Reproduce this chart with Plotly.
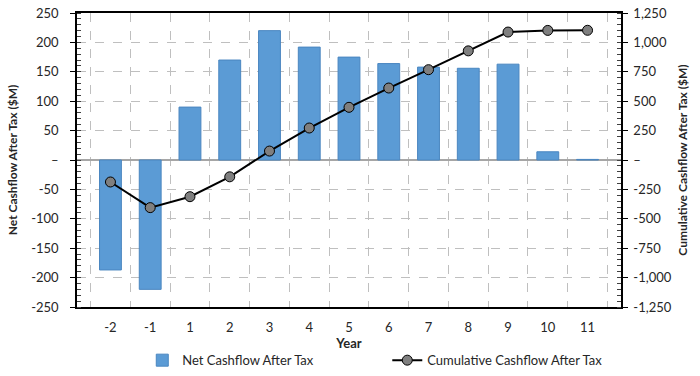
import plotly.graph_objects as go

years = ["-2", "-1", "1", "2", "3", "4", "5", "6", "7", "8", "9", "10", "11"]
net_cashflow = [-187, -220, 90, 170, 220, 192, 175, 164, 158, 156, 163, 14, 1]
cumulative_cashflow = [-187, -405, -312, -143, 76, 272, 448, 612, 768, 928, 1088, 1102, 1103]

left_ticks = [250, 200, 150, 100, 50, 0, -50, -100, -150, -200, -250]
left_ticktext = ["250", "200", "150", "100", "50", "–", "-50", "-100", "-150", "-200", "-250"]
right_ticks = [1250, 1000, 750, 500, 250, 0, -250, -500, -750, -1000, -1250]
right_ticktext = ["1,250", "1,000", "750", "500", "250", "–", "-250", "-500", "-750", "-1,000", "-1,250"]

FONT = "Lato"
TXT = "#262626"

fig = go.Figure()
fig.add_trace(go.Bar(
    x=years, y=net_cashflow, name="Net Cashflow After Tax",
    marker=dict(color="#5B9BD5", line=dict(color="#4A86C0", width=1)),
    yaxis="y",
))
fig.add_trace(go.Scatter(
    x=years, y=cumulative_cashflow, name="Cumulative Cashflow After Tax",
    mode="lines+markers",
    line=dict(color="#000000", width=2),
    marker=dict(color="#7F7F7F", size=10, line=dict(color="#000000", width=1)),
    yaxis="y2",
))

fig.update_layout(
    width=700, height=376,
    margin=dict(l=77, r=79, t=13, b=69, autoexpand=False),
    paper_bgcolor="white", plot_bgcolor="white",
    font=dict(family=FONT, size=13, color=TXT),
    bargap=0.45,
    showlegend=True,
    legend=dict(orientation="h", x=0.12, xanchor="left", y=-0.13, yanchor="top",
                entrywidth=200, font=dict(size=13, color=TXT), bgcolor="rgba(0,0,0,0)"),
    xaxis=dict(
        type="category", tickson="boundaries", automargin=False,
        showgrid=True, gridcolor="#BFBFBF", griddash="dash", gridwidth=1,
        showline=True, linecolor="#000000", linewidth=1.5, mirror=True,
        ticks="", ticklabelstandoff=8, tickfont=dict(size=13, color=TXT),
        title=dict(text="<b>Year</b>", font=dict(size=13, color=TXT), standoff=0),
    ),
    yaxis=dict(
        range=[-250, 250], tickvals=left_ticks, ticktext=left_ticktext, automargin=False,
        showgrid=True, gridcolor="#BFBFBF", griddash="dash", gridwidth=1,
        zeroline=True, zerolinecolor="#A6A6A6", zerolinewidth=1.5,
        showline=True, linecolor="#000000", linewidth=1.5,
        ticks="outside", ticklen=5, tickcolor="#000000", ticklabelstandoff=9,
        minor=dict(dtick=10, ticks="inside", ticklen=4, tickcolor="#404040", showgrid=False),
        tickfont=dict(size=13, color=TXT),
        title=dict(text="<b>Net Cashflow After Tax ($M)</b>", font=dict(size=12, color=TXT), standoff=11),
    ),
    yaxis2=dict(
        range=[-1250, 1250], tickvals=right_ticks, ticktext=right_ticktext, automargin=False,
        overlaying="y", side="right",
        showgrid=False, zeroline=False,
        showline=True, linecolor="#000000", linewidth=1.5,
        ticks="outside", ticklen=5, tickcolor="#000000", ticklabelstandoff=3,
        minor=dict(dtick=50, ticks="inside", ticklen=4, tickcolor="#404040", showgrid=False),
        tickfont=dict(size=13, color=TXT),
        title=dict(text="<b>Cumulative Cashflow After Tax ($M)</b>", font=dict(size=12, color=TXT), standoff=8),
    ),
)

# remove the browser's default 8px page margin so the figure fills the window
fig.write_html(
    "out.html",
    config={"displayModeBar": False},
    post_script="document.body.style.margin='0';document.body.style.overflow='hidden';",
)
